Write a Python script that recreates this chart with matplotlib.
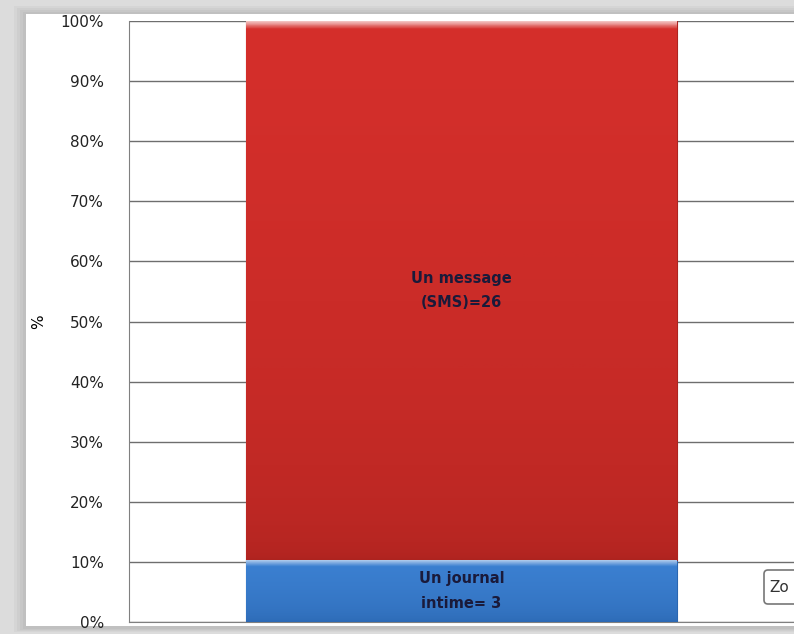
import numpy as np
import matplotlib.pyplot as plt
from matplotlib.patches import Rectangle, FancyBboxPatch
from matplotlib.colors import LinearSegmentedColormap

# donnees
labels = ["Un journal\nintime= 3", "Un message\n(SMS)=26"]
counts = [3, 26]
colors = ["#3b7fd0", "#d52f2b"]
dark_colors = ["#2a66b0", "#ad231f"]
yticks = [0, 10, 20, 30, 40, 50, 60, 70, 80, 90, 100]

total = sum(counts)
pct = [c / total * 100 for c in counts]

fig = plt.figure(figsize=(7.94, 6.34), dpi=100)
fig.patch.set_facecolor("#dcdcdc")

# cadre blanc avec ombre
bg = fig.add_axes([0, 0, 1, 1], zorder=-1)
bg.set_xlim(0, 794)
bg.set_ylim(634, 0)
bg.axis("off")
for i, a in enumerate([0.10, 0.10, 0.12, 0.15]):
    bg.add_patch(Rectangle((14 + i * 3, 6 + i * 2), 794, 626 - i * 3, color="#9a9a9a", alpha=a, lw=0))
bg.add_patch(Rectangle((26, 14), 780, 612, color="white", lw=0))

ax = fig.add_axes([129 / 794, 12 / 634, 665 / 794, 601 / 634])
ax.set_xlim(-0.5, 0.5)
ax.set_ylim(0, 100)

bottom = 0
for p, lab, c, dc in zip(pct, labels, colors, dark_colors):
    bars = ax.bar(0, p, width=0.647, bottom=bottom, color=c, edgecolor=dc, linewidth=0.8, zorder=3)
    patch = bars[0]
    cmap = LinearSegmentedColormap.from_list("g", [dc, c, "#ffffff"])
    # haut clair sur ~1 % de l'axe, reste en degrade sombre vers le bas
    hl = 1.2 / p
    n = 400
    y = np.linspace(0, 1, n)
    vals = np.where(y < 1 - hl, 0.5 * (y / (1 - hl)) ** 0.4, 0.5 + 0.35 * (y - (1 - hl)) / hl)
    im = ax.imshow(vals.reshape(-1, 1), cmap=cmap, vmin=0, vmax=1, aspect="auto", origin="lower",
                   extent=[-0.3235, 0.3235, bottom, bottom + p], zorder=4)
    im.set_clip_path(patch)
    ax.text(0, bottom + p / 2, lab, ha="center", va="center", fontsize=10.5,
            fontfamily="DejaVu Sans Condensed", fontweight="bold", color="#1a1a3a",
            linespacing=1.8, zorder=5)
    bottom += p

ax.set_yticks(yticks)
ax.set_yticklabels([f"{t}%" for t in yticks], fontsize=11, color="#222222")
ax.set_xticks([])
ax.yaxis.grid(True, color="#6e6e6e", linewidth=1.0, zorder=1)
ax.set_axisbelow(True)
for s in ["top", "right"]:
    ax.spines[s].set_visible(False)
ax.spines["left"].set_color("#808080")
ax.spines["bottom"].set_color("#808080")
ax.tick_params(axis="y", length=0, pad=18)
ax.set_ylabel("%", fontsize=11, labelpad=10)
ax.patch.set_alpha(0)

# bouton "Zo" coupe
bg.add_patch(FancyBboxPatch((764, 570), 40, 34, boxstyle="round,pad=0,rounding_size=4",
                            fc="white", ec="#777777", lw=1.2))
bg.text(769, 588, "Zo", fontsize=11, va="center", ha="left", color="#333333")

fig.savefig("out.png", dpi=100, facecolor=fig.get_facecolor())
